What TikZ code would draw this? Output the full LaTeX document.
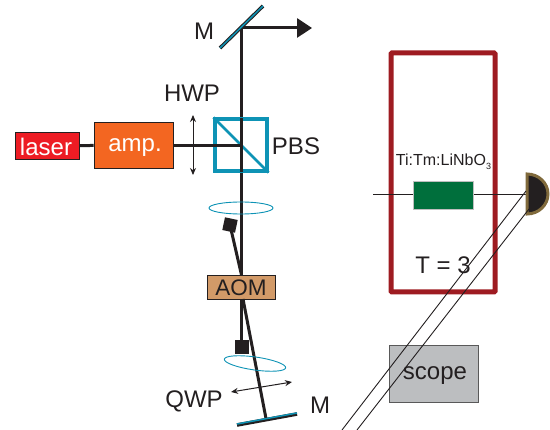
\documentclass[tikz,border=0pt]{standalone}
\usepackage{fontspec}
\setmainfont{Liberation Sans}
\usetikzlibrary{arrows.meta}
\definecolor{tealc}{HTML}{0E93B5}
\definecolor{inkc}{HTML}{231F20}
\definecolor{redb}{HTML}{ED1C24}
\definecolor{orangeb}{HTML}{F36621}
\definecolor{aomc}{HTML}{D29A68}
\definecolor{wine}{HTML}{9E1B21}
\definecolor{greenb}{HTML}{006F3C}
\definecolor{brownd}{HTML}{806A3C}
\definecolor{scopec}{HTML}{BCBEC0}
\tikzset{
  box/.style={draw=inkc,line width=0.8pt,inner sep=0pt,anchor=center},
  lbl/.style={text=inkc,inner sep=0pt,font=\fontsize{#1}{#1}\selectfont},
  beam/.style={draw=inkc,line width=3pt},
  thin beam/.style={draw=inkc,line width=0.9pt},
  mirror/.style={draw=inkc,line width=3.6pt},
  mirrorface/.style={draw=tealc,line width=1.5pt},
  lens/.style={draw=tealc,line width=0.9pt},
  dbl/.style={draw=inkc,line width=1pt,{Stealth[length=7pt,width=6pt]}-{Stealth[length=7pt,width=6pt]}},
  block/.style={fill=inkc,inner sep=0pt,minimum size=13pt}
}
\begin{document}
\begin{tikzpicture}[x=1pt,y=-1pt]
\useasboundingbox (0,0) rectangle (550,430);
% named reference points
\coordinate (topturn) at (241.5,28);
\coordinate (arrowend) at (312,28);
\coordinate (mA) at (220,48);
\coordinate (mB) at (263,6);
\coordinate (mC) at (237,425);
\coordinate (mD) at (297,414);
\coordinate (mhit) at (266,418.5);
\coordinate (split) at (241.5,145.5);
\coordinate (inA) at (373,194.5);
\coordinate (outA) at (342,430);
\coordinate (outB) at (357,430);
\coordinate (hA) at (193,115);
\coordinate (hB) at (193,175);
\coordinate (qA) at (231,392);
\coordinate (qB) at (292,382);
% scope below the thin cables
\node[box,draw=black!65,fill=scopec,minimum width=89pt,minimum height=57pt] (scope) at (433.5,373.5) {};
% beams
\draw[beam] (topturn) -- (241.5,275);
\draw[beam,-{Triangle[length=15pt,width=19pt]}] (topturn) -- (arrowend);
\draw[mirror] (mA) -- (mB);
\draw[mirrorface] (mA) -- (mB);
% PBS
\node[draw=tealc,line width=3.2pt,minimum size=52pt,inner sep=0pt] (pbs) at (241,145) {};
\draw[draw=tealc,line width=2.6pt] (pbs.north west) -- (pbs.south east);
\draw[beam] (241.5,118) -- (241.5,172);
% laser/amp
\node[box,fill=redb,minimum width=64pt,minimum height=27pt] (laser) at (47,146) {};
\node[box,fill=orangeb,minimum width=79pt,minimum height=46pt] (amp) at (133.5,145) {};
\node[lbl=24,text=white] (laserl) at (46,147) {laser};
\node[lbl=24,text=white] (ampl) at (135,147.5) {amp.};
\draw[beam] (laser) -- (amp);
\draw[beam] (amp.east |- split) -- (split);
\draw[dbl] (hA) -- (hB);
\node[lbl=24] (hwp) at (192,93) {HWP};
\node[lbl=24] (pbsl) at (296,146) {PBS};
\node[lbl=24] (m1) at (204,31) {M};
% lens 1
\draw[lens] (241,208) ellipse [x radius=32,y radius=6];
% AOM
\node[box,fill=aomc,minimum width=68pt,minimum height=24pt] (aom) at (241,287) {};
\node[lbl=22.5] (aoml) at (241,288) {AOM};
\node[block,rotate=-12] (blockA) at (230,225) {};
\node[block,minimum size=14pt] (blockB) at (241.5,347) {};
\draw[beam] (blockA.center) -- (241.5,275);
\draw[beam] (241.5,299) -- (blockB.center);
\draw[beam] (243,299) -- (mhit);
\draw[mirror] (mC) -- (mD);
\draw[mirrorface] ([yshift=1pt]mC) -- ([yshift=1pt]mD);
\draw[lens,rotate around={-8:(255,363.5)}] (255,363.5) ellipse [x radius=31,y radius=6.5];
\draw[dbl] (qA) -- (qB);
\node[lbl=24] (qwp) at (194,401) {QWP};
\node[lbl=24] (m2) at (320,405) {M};
% furnace
\node[draw=wine,line width=5pt,rounded corners=1pt,minimum width=104pt,minimum height=239pt,inner sep=0pt] (oven) at (443,172.5) {};
\draw[thin beam] (inA) -- (527,194.5);
\node[draw=black!25,line width=0.8pt,fill=greenb,minimum width=60pt,minimum height=28pt,inner sep=0pt] (xtal) at (443,195) {};
\node[lbl=16] (xl) at (443.5,162) {Ti:Tm:LiNbO\raisebox{-4pt}{\fontsize{9}{9}\selectfont 3}};
\node[lbl=24] (tl) at (443,265) {T = 3};
% detector
\draw[draw=brownd,line width=3pt,fill=inkc] (527,174) arc[start angle=-90,end angle=90,x radius=21,y radius=20] -- cycle;
\coordinate (dA) at (526,191);
\coordinate (dB) at (529,209);
\draw[thin beam] (dA) -- (outA);
\draw[thin beam] (dB) -- (outB);
\node[lbl=24] (scopel) at (435,376) {scope};
\end{tikzpicture}
\end{document}
